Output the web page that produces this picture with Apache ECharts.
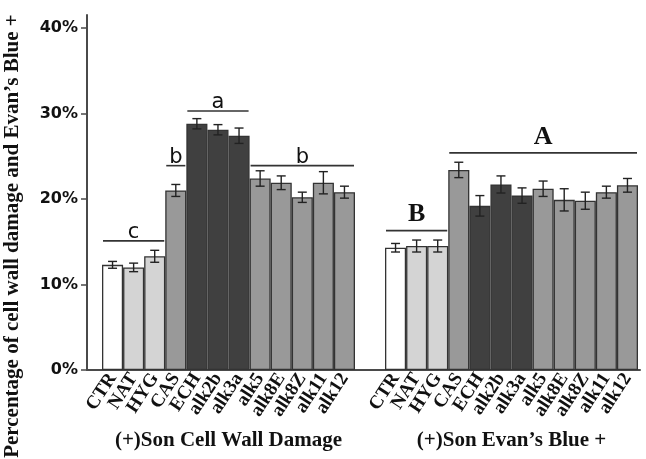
<!DOCTYPE html>
<html>
<head>
<meta charset="utf-8">
<script src="https://cdn.jsdelivr.net/npm/echarts@6/dist/echarts.min.js"></script>
<style>
html,body{margin:0;padding:0;background:#fff;}
#chart{width:646px;height:459px;}
</style>
</head>
<body>
<div id="chart"></div>
<script>
// ---- data ----
var categories = ['CTR','NAT','HYG','CAS','ECH','alk2b','alk3a','alk5','alk8E','alk8Z','alk11','alk12'];
var cellWallValues = [12.3, 12.0, 13.3, 21.0, 28.8, 28.1, 27.4, 22.4, 21.9, 20.2, 21.9, 20.8];
var cellWallErrors = [0.4, 0.5, 0.7, 0.7, 0.6, 0.6, 0.9, 0.9, 0.8, 0.6, 1.3, 0.7];
var evansValues = [14.3, 14.5, 14.5, 23.4, 19.2, 21.7, 20.4, 21.2, 19.9, 19.8, 20.8, 21.6];
var evansErrors = [0.5, 0.7, 0.7, 0.9, 1.2, 1.0, 0.9, 0.9, 1.3, 1.0, 0.7, 0.8];
var groupNames = ['(+)Son Cell Wall Damage', '(+)Son Evan\u2019s Blue +'];
var yTicks = [0, 10, 20, 30, 40];
var yTitle = 'Percentage of cell wall damage and Evan\u2019s Blue +';
// significance groups: [firstIndex, lastIndex, level(%), letter]
var cellWallSig = [[0, 2, 15.1, 'c'], [3, 3, 23.9, 'b'], [4, 6, 30.3, 'a'], [7, 11, 23.9, 'b']];
var evansSig = [[0, 2, 16.3, 'B'], [3, 11, 25.4, 'A']];

// ---- styles ----
var barColors = ['#ffffff','#d4d4d4','#d4d4d4','#999999','#404040','#404040','#404040','#999999','#999999','#999999','#999999','#999999'];
var serif = '"Liberation Serif", "Times New Roman", serif';
var sans = '"DejaVu Sans", Verdana, sans-serif';
var axisColor = '#4a4a4a';

var chart = echarts.init(document.getElementById('chart'), null, {renderer: 'canvas'});

function xAxisFor(gridIndex, name) {
  return {
    type: 'category', gridIndex: gridIndex, data: categories,
    axisLine: {show: false}, axisTick: {show: false},
    axisLabel: {interval: 0, rotate: 57, margin: 5, color: '#111',
      fontFamily: serif, fontWeight: 'bold', fontSize: 19},
    name: name, nameLocation: 'middle', nameGap: 60,
    nameTextStyle: {fontFamily: serif, fontWeight: 'bold', fontSize: 21, color: '#111'}
  };
}
function yAxisFor(gridIndex, show) {
  return {
    type: 'value', gridIndex: gridIndex, min: yTicks[0], max: yTicks[yTicks.length - 1], interval: 10,
    offset: 15,
    splitLine: {show: false}, axisLine: {show: false},
    axisTick: {show: show, length: 6, lineStyle: {color: axisColor, width: 1.5}},
    axisLabel: {show: show, formatter: '{value}%', margin: 9, color: '#111',
      fontFamily: sans, fontWeight: 'bold', fontSize: 16}
  };
}
function errorSeries(axisIdx, values, errors) {
  return {
    type: 'custom', xAxisIndex: axisIdx, yAxisIndex: axisIdx, z: 5,
    data: values.map(function (v, i) { return [i, v, errors[i]]; }),
    renderItem: function (params, api) {
      var i = api.value(0), v = api.value(1), e = api.value(2);
      var lo = api.coord([i, v - e]), hi = api.coord([i, v + e]);
      var cap = 4.5;
      var st = {stroke: '#222', lineWidth: 1.4};
      return {type: 'group', children: [
        {type: 'line', shape: {x1: lo[0], y1: lo[1], x2: hi[0], y2: hi[1]}, style: st},
        {type: 'line', shape: {x1: lo[0] - cap, y1: lo[1], x2: lo[0] + cap, y2: lo[1]}, style: st},
        {type: 'line', shape: {x1: hi[0] - cap, y1: hi[1], x2: hi[0] + cap, y2: hi[1]}, style: st}
      ]};
    }
  };
}
function sigSeries(axisIdx, sig, font) {
  return {
    type: 'custom', xAxisIndex: axisIdx, yAxisIndex: axisIdx, z: 6,
    data: sig,
    renderItem: function (params, api) {
      var s = sig[params.dataIndex];
      var a = api.coord([s[0], s[2]]), b = api.coord([s[1], s[2]]);
      var half = api.size([1, 0])[0] / 2;
      var x1 = a[0] - half + 1, x2 = b[0] + half - 1;
      return {type: 'group', children: [
        {type: 'line', shape: {x1: x1, y1: a[1], x2: x2, y2: a[1]}, style: {stroke: '#333', lineWidth: 1.6}},
        {type: 'text', x: (x1 + x2) / 2, y: a[1] + font.dy,
          style: {text: s[3], font: font.font, fill: '#111', align: 'center', verticalAlign: 'bottom'}}
      ]};
    }
  };
}

var option = {
  backgroundColor: '#fff',
  animation: false,
  grid: [
    {left: 102, width: 253, top: 28, bottom: 89},
    {left: 385, width: 253, top: 28, bottom: 89},
    {left: 87, right: 6, top: 15, bottom: 89}
  ],
  xAxis: [
    xAxisFor(0, groupNames[0]),
    xAxisFor(1, groupNames[1]),
    {type: 'value', gridIndex: 2, min: 0, max: 1, axisLabel: {show: false}, axisTick: {show: false},
      splitLine: {show: false}, axisLine: {show: true, lineStyle: {color: axisColor, width: 2}}}
  ],
  yAxis: [
    yAxisFor(0, true),
    yAxisFor(1, false),
    {type: 'value', gridIndex: 2, min: 0, max: 1, axisLabel: {show: false}, axisTick: {show: false},
      splitLine: {show: false}, axisLine: {show: true, lineStyle: {color: axisColor, width: 2}}}
  ],
  graphic: [{
    type: 'text', x: 13, y: 236, rotation: Math.PI / 2,
    style: {text: yTitle, font: 'bold 21px ' + serif, fill: '#111', align: 'center', verticalAlign: 'middle'}
  }],
  series: [
    {type: 'bar', xAxisIndex: 0, yAxisIndex: 0, data: cellWallValues, barCategoryGap: '0%',
      itemStyle: {color: function (p) { return barColors[p.dataIndex]; }, borderColor: '#333', borderWidth: 1.3}},
    {type: 'bar', xAxisIndex: 1, yAxisIndex: 1, data: evansValues, barCategoryGap: '0%',
      itemStyle: {color: function (p) { return barColors[p.dataIndex]; }, borderColor: '#333', borderWidth: 1.3}},
    errorSeries(0, cellWallValues, cellWallErrors),
    errorSeries(1, evansValues, evansErrors),
    sigSeries(0, cellWallSig, {font: '21px ' + sans, dy: 2}),
    sigSeries(1, evansSig, {font: 'bold 26px ' + serif, dy: -3})
  ]
};
chart.setOption(option);
</script>
</body>
</html>
